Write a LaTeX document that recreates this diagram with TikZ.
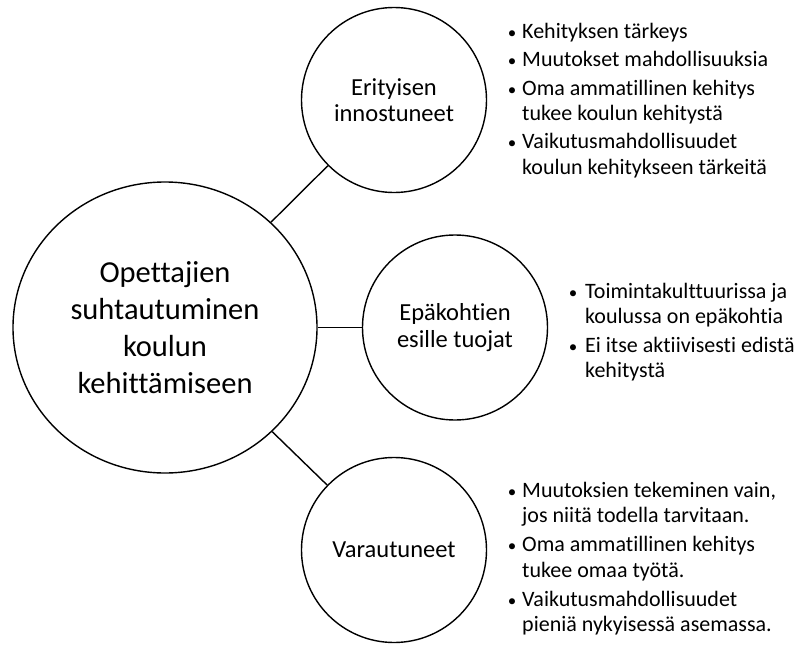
\documentclass[tikz,border=0pt]{standalone}
\usepackage{fontspec}
\setmainfont{Carlito}[Ligatures={TeX,NoCommon}]
\usetikzlibrary{shapes.geometric}
\begin{document}
\begin{tikzpicture}[x=1pt,y=-1pt,
  bubble/.style={draw=black, line width=1.4pt, circle, minimum size=185pt, inner sep=0pt, align=center, font=\fontsize{24.5}{26.5}\selectfont},
  mainbubble/.style={draw=black, line width=1.4pt, ellipse, minimum width=304pt, minimum height=291pt, inner sep=0pt, align=center, font=\fontsize{30.5}{37}\selectfont},
  link/.style={draw=black, line width=1.4pt},
  txt/.style={anchor=base west, inner sep=0pt, font=\fontsize{22}{25}\selectfont},
  dot/.style={anchor=base, inner sep=0pt, font=\fontsize{17}{17}\selectfont}
]
\useasboundingbox (0,0) rectangle (798,645);

\node[mainbubble] (main) at (165,327.5) {Opettajien\\suhtautuminen\\koulun\\kehittämiseen};
\node[bubble] (ero) at (394,100) {Erityisen\\innostuneet};
\node[bubble] (epa) at (455,327.5) {Epäkohtien\\esille tuojat};
\node[bubble] (var) at (394,550) {Varautuneet};

\draw[link] (main) -- (ero);
\draw[link] (main) -- (epa);
\draw[link] (main) -- (var);

% Block 1
\node[dot] (d1a) at (512,38) {•};
\node[txt] (t1a) at (522,38) {Kehityksen tärkeys};
\node[dot] (d1b) at (512,66.5) {•};
\node[txt] (t1b) at (522,66.5) {Muutokset mahdollisuuksia};
\node[dot] (d1c) at (512,95) {•};
\node[txt] (t1c) at (522,95) {Oma ammatillinen kehitys};
\node[txt] (t1d) at (522,120) {tukee koulun kehitystä};
\node[dot] (d1e) at (512,148.5) {•};
\node[txt] (t1e) at (522,148.5) {Vaikutusmahdollisuudet};
\node[txt] (t1f) at (522,174) {koulun kehitykseen tärkeitä};

% Block 2
\node[dot] (d2a) at (573,298.5) {•};
\node[txt] (t2a) at (585,298.5) {Toimintakulttuurissa ja};
\node[txt] (t2b) at (585,323.5) {koulussa on epäkohtia};
\node[dot] (d2c) at (573,352.5) {•};
\node[txt] (t2c) at (585,352.5) {Ei itse aktiivisesti edistä};
\node[txt] (t2d) at (585,377.5) {kehitystä};

% Block 3
\node[dot] (d3a) at (512,497) {•};
\node[txt] (t3a) at (522,497) {Muutoksien tekeminen vain,};
\node[txt] (t3b) at (522,522.5) {jos niitä todella tarvitaan.};
\node[dot] (d3c) at (512,551.5) {•};
\node[txt] (t3c) at (522,551.5) {Oma ammatillinen kehitys};
\node[txt] (t3d) at (522,577) {tukee omaa työtä.};
\node[dot] (d3e) at (512,606) {•};
\node[txt] (t3e) at (522,606) {Vaikutusmahdollisuudet};
\node[txt] (t3f) at (522,631.5) {pieniä nykyisessä asemassa.};
\end{tikzpicture}
\end{document}
